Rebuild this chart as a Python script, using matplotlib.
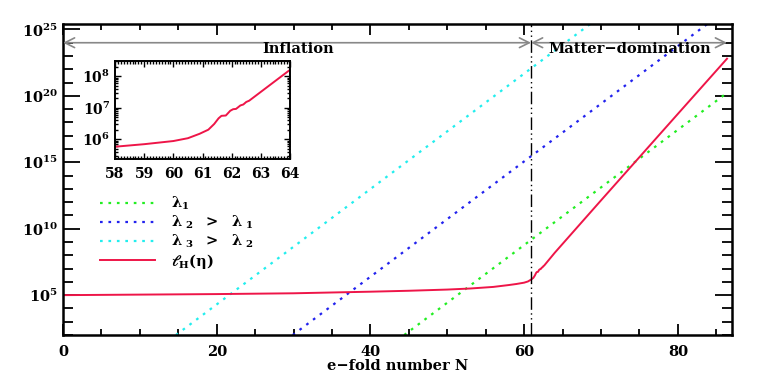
import matplotlib
matplotlib.use("Agg")
import matplotlib.pyplot as plt
from matplotlib.ticker import LogLocator, FixedLocator, MultipleLocator, FuncFormatter, NullFormatter
import numpy as np

plt.rcParams['font.family'] = ['DejaVu Serif']
plt.rcParams['font.weight'] = 'bold'
plt.rcParams['mathtext.fontset'] = 'dejavuserif'
plt.rcParams['mathtext.default'] = 'bf'

# ---------------- data ----------------
# Hubble radius l_H(eta): e-fold number and log10 of value
lH_N = [0, 10, 20, 30, 40, 45, 50, 53, 56, 58, 59, 60, 60.5, 60.9,
        61.2, 61.4, 61.55, 61.65, 61.8, 61.95, 62.05, 62.15, 62.3, 62.4,
        62.5, 62.6, 63, 64, 70, 80, 86.4]
lH_log = [5.00, 5.04, 5.08, 5.14, 5.26, 5.33, 5.42, 5.50, 5.62, 5.76, 5.84, 5.94, 6.03, 6.17,
          6.30, 6.48, 6.66, 6.74, 6.75, 6.90, 6.95, 6.96, 7.07, 7.10,
          7.18, 7.22, 7.50, 8.20, 12.13, 18.64, 22.80]

# physical wavelengths (straight lines on log axis)
lam1_N = [44.4, 86.0]
lam1_log = [2.0, 20.05]
lam2_N = [29.9, 84.5]
lam2_log = [2.0, 25.7]
lam3_N = [14.7, 69.5]
lam3_log = [2.0, 25.8]

N_end = 60.9          # end of inflation
arrow_log = 24.0      # height of the era arrows
labels = [r'$\lambda_1$', r'$\lambda_{\ 2}\ \ >\ \ \lambda_{\ 1}$',
          r'$\lambda_{\ 3}\ \ >\ \ \lambda_{\ 2}$', r'$\ell_H(\eta)$']

def pw(v):
    return [10.0 ** x for x in v]

RED = '#ee1548'
GREEN = '#22ee22'
BLUE = '#2222ee'
CYAN = '#22eeee'
dot = (0, (1.2, 2.6))

fig = plt.figure(figsize=(7.63, 3.82), dpi=100)
ax = fig.add_axes([63/763, 1-335/382, (732-63)/763, (335-24)/382])

l1, = ax.plot(lam1_N, pw(lam1_log), color=GREEN, ls=dot, lw=1.6)
l2, = ax.plot(lam2_N, pw(lam2_log), color=BLUE, ls=dot, lw=1.6)
l3, = ax.plot(lam3_N, pw(lam3_log), color=CYAN, ls=dot, lw=1.6)
l4, = ax.plot(lH_N, pw(lH_log), color=RED, lw=1.4)

ax.axvline(N_end, color='black', lw=1.0, ls=(0, (9, 2.5, 1, 2.5, 1, 2.5)))

ax.set_yscale('log')
ax.set_xlim(0, 87.05)
ax.set_ylim(1e2, 10**25.41)

ax.xaxis.set_major_locator(MultipleLocator(20))
ax.xaxis.set_minor_locator(MultipleLocator(5))
ax.yaxis.set_major_locator(FixedLocator([1e5, 1e10, 1e15, 1e20, 1e25]))
ax.yaxis.set_minor_locator(FixedLocator([10.0**k for k in range(2, 26)]))
ax.yaxis.set_minor_formatter(NullFormatter())
ax.yaxis.set_major_formatter(FuncFormatter(lambda v, p: r'$10^{%d}$' % round(np.log10(v))))

ax.tick_params(axis='both', which='both', direction='in', top=True, right=True,
               labelsize=10.5, width=1.3, colors='black')
ax.tick_params(axis='y', which='major', length=12)
ax.tick_params(axis='y', which='minor', length=7)
ax.tick_params(axis='x', which='major', length=8, pad=7)
ax.tick_params(axis='x', which='minor', length=4)
for s in ax.spines.values():
    s.set_linewidth(1.8)

ax.set_xlabel('e\u2212fold number N', fontsize=10.5, fontweight='bold', labelpad=0)

# era arrows
ya = 10 ** arrow_log
aprops = dict(arrowstyle='<->,head_length=0.7,head_width=0.35', color='#888888', lw=1.2,
              shrinkA=0, shrinkB=0)
ax.annotate('', xy=(0, ya), xytext=(N_end, ya), arrowprops=aprops)
ax.annotate('', xy=(N_end, ya), xytext=(86.4, ya), arrowprops=aprops)
ax.text(30.6, 10**23.5, 'Inflation', ha='center', va='center', fontsize=10.5, fontweight='bold')
ax.text(73.8, 10**23.5, 'Matter\u2212domination', ha='center', va='center', fontsize=10.5,
        fontweight='bold')

leg = ax.legend([l1, l2, l3, l4], labels, loc='upper left',
                bbox_to_anchor=(100/763, 1-195/382), bbox_transform=fig.transFigure,
                frameon=False, fontsize=10.5, handlelength=3.8, handletextpad=1.1,
                labelspacing=0.1, borderpad=0, borderaxespad=0)

# inset
ax2 = fig.add_axes([115/763, 1-159/382, (290-115)/763, (159-61)/382])
ax2.plot(lH_N, pw(lH_log), color=RED, lw=1.4)
ax2.set_yscale('log')
ax2.set_xlim(58, 64)
ax2.set_ylim(10**5.37, 10**8.48)
ax2.xaxis.set_major_locator(MultipleLocator(1))
ax2.xaxis.set_minor_locator(MultipleLocator(0.1))
ax2.yaxis.set_major_locator(FixedLocator([1e6, 1e7, 1e8]))
ax2.yaxis.set_minor_locator(FixedLocator([k * 10.0**e for e in range(5, 9) for k in range(2, 10)]))
ax2.yaxis.set_minor_formatter(NullFormatter())
ax2.yaxis.set_major_formatter(FuncFormatter(lambda v, p: r'$10^{%d}$' % round(np.log10(v))))
ax2.tick_params(axis='both', which='both', direction='in', top=True, right=True,
                labelsize=10, width=1.0)
ax2.tick_params(which='major', length=4)
ax2.tick_params(which='minor', length=2)
ax2.tick_params(axis='x', which='major', pad=6)
for s in ax2.spines.values():
    s.set_linewidth(1.4)

fig.savefig('out.png', dpi=100)
